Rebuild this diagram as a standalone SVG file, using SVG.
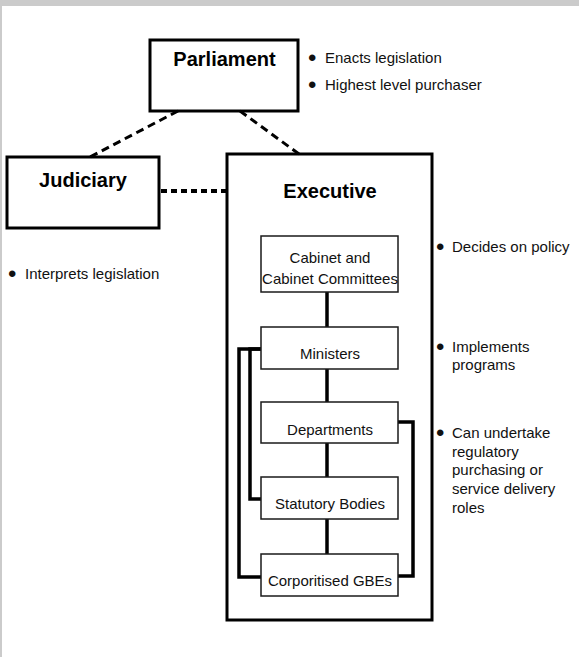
<svg xmlns="http://www.w3.org/2000/svg" width="579" height="657" viewBox="0 0 579 657">
  <style>
    .frame { fill: #cbcbcb; }
    .major { fill: #ffffff; stroke: #000000; stroke-width: 3; }
    .minor { fill: #ffffff; stroke: #1a1a1a; stroke-width: 1.5; }
    .title { font-family: "Liberation Sans", Arial, sans-serif; font-weight: bold; font-size: 20px; fill: #000000; text-anchor: middle; }
    .label { font-family: "Liberation Sans", Arial, sans-serif; font-size: 15px; fill: #111111; text-anchor: middle; }
    .note { font-family: "Liberation Sans", Arial, sans-serif; font-size: 15px; fill: #111111; }
    .dot { font-size: 24px; }
    .dash-thin { fill: none; stroke: #000000; stroke-width: 3; stroke-dasharray: 8 5; }
    .dash-thick { fill: none; stroke: #000000; stroke-width: 4; stroke-dasharray: 6 4; }
    .link { fill: none; stroke: #000000; stroke-width: 3.5; }
  </style>

  <!-- page background and frame edges -->
  <rect x="0" y="0" width="579" height="657" fill="#ffffff"/>
  <rect class="frame" x="0" y="0" width="579" height="6"/>
  <rect class="frame" x="0" y="0" width="2" height="657"/>

  <g id="parliament">
    <rect class="major" x="150" y="40" width="148" height="71"/>
    <text class="title" x="224.5" y="66">Parliament</text>
  </g>

  <g id="judiciary">
    <rect class="major" x="7" y="157" width="152" height="71"/>
    <text class="title" x="83" y="187">Judiciary</text>
  </g>

  <g id="executive">
    <rect class="major" x="227" y="154" width="205" height="466"/>
    <text class="title" x="330" y="198">Executive</text>
  </g>

  <!-- connectors: drawn over the Executive frame, under the unit boxes -->
  <g id="connectors">
    <line class="dash-thin" x1="178" y1="111" x2="90" y2="157"/>
    <line class="dash-thin" x1="240" y1="111" x2="299" y2="154"/>
    <line class="dash-thick" x1="161" y1="191" x2="226" y2="191"/>
    <line class="link" x1="327" y1="292" x2="327" y2="327"/>
    <line class="link" x1="327" y1="369" x2="327" y2="402"/>
    <line class="link" x1="327" y1="443" x2="327" y2="477"/>
    <line class="link" x1="327" y1="519" x2="327" y2="554"/>
    <polyline class="link" points="261,349 239,349 239,577 261,577"/>
    <polyline class="link" points="261,349 250,349 250,499 261,499"/>
    <polyline class="link" points="398,422 413,422 413,576 398,576"/>
  </g>

  <g id="cabinet">
    <rect class="minor" x="261" y="236" width="137" height="56"/>
    <text class="label" x="330" y="263">Cabinet and</text>
    <text class="label" x="330" y="284">Cabinet Committees</text>
  </g>

  <g id="ministers">
    <rect class="minor" x="261" y="327" width="137" height="42"/>
    <text class="label" x="330" y="359">Ministers</text>
  </g>

  <g id="departments">
    <rect class="minor" x="261" y="402" width="137" height="41"/>
    <text class="label" x="330" y="435">Departments</text>
  </g>

  <g id="statutory-bodies">
    <rect class="minor" x="261" y="477" width="137" height="42"/>
    <text class="label" x="330" y="509">Statutory Bodies</text>
  </g>

  <g id="corporitised-gbes">
    <rect class="minor" x="261" y="554" width="137" height="42"/>
    <text class="label" x="330" y="586">Corporitised GBEs</text>
  </g>

  <!-- role notes -->
  <g id="notes">
    <text class="note"><tspan class="dot" x="308" y="66">•</tspan><tspan x="325" y="63">Enacts legislation</tspan></text>
    <text class="note"><tspan class="dot" x="308" y="93">•</tspan><tspan x="325" y="90">Highest level purchaser</tspan></text>
    <text class="note"><tspan class="dot" x="8" y="282">•</tspan><tspan x="25" y="279">Interprets legislation</tspan></text>
    <text class="note"><tspan class="dot" x="436" y="255">•</tspan><tspan x="452" y="252">Decides on policy</tspan></text>
    <text class="note"><tspan class="dot" x="436" y="355">•</tspan><tspan x="452" y="352">Implements</tspan><tspan x="452" y="370">programs</tspan></text>
    <text class="note"><tspan class="dot" x="436" y="441">•</tspan><tspan x="452" y="438">Can undertake</tspan><tspan x="452" y="456.7">regulatory</tspan><tspan x="452" y="475.4">purchasing or</tspan><tspan x="452" y="494">service delivery</tspan><tspan x="452" y="512.7">roles</tspan></text>
  </g>
</svg>
